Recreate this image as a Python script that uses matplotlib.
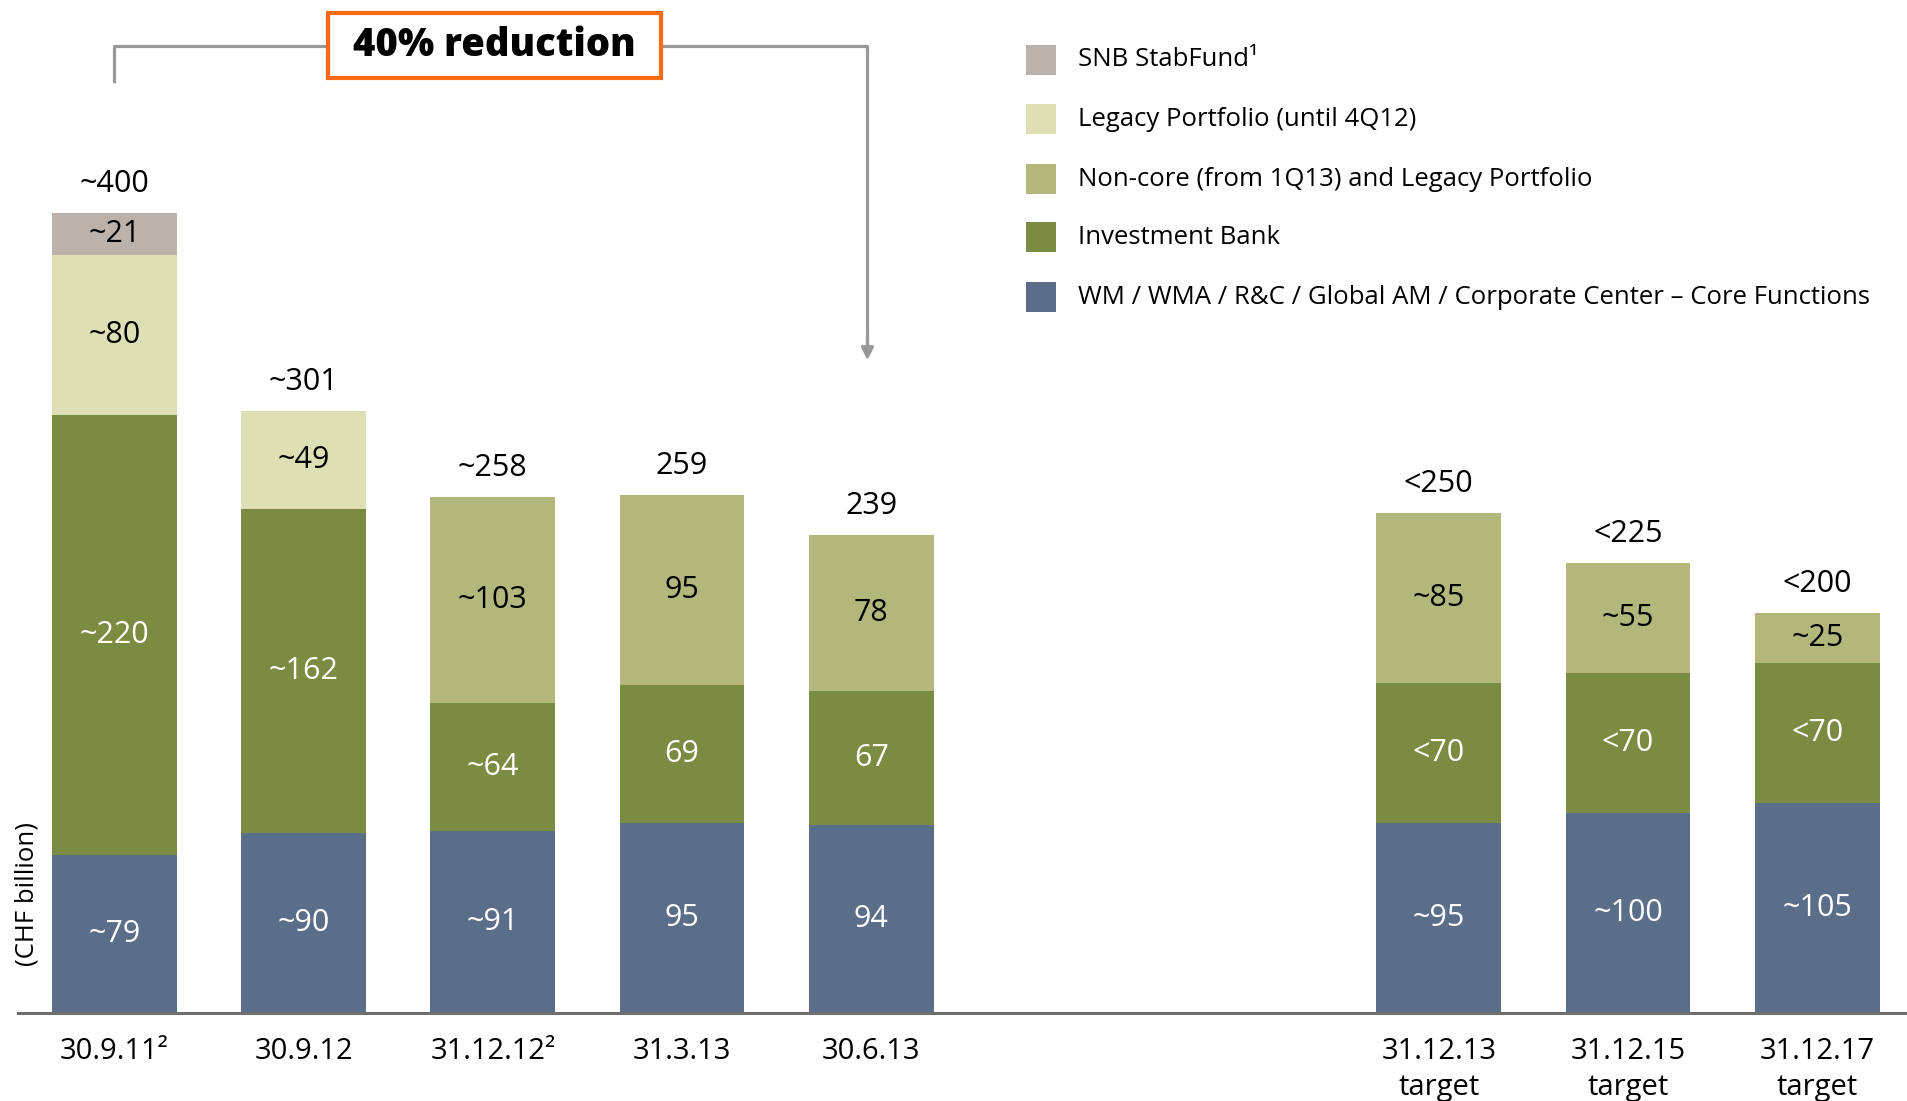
import numpy as np
import matplotlib
matplotlib.use("Agg")
import matplotlib.pyplot as plt
from matplotlib.patches import Rectangle

plt.rcParams['font.family'] = ['Open Sans', 'DejaVu Sans']

# data (CHF billion)
categories = ["30.9.11\u00b2", "30.9.12", "31.12.12\u00b2", "31.3.13", "30.6.13",
              "31.12.13\ntarget", "31.12.15\ntarget", "31.12.17\ntarget"]
wm = [79, 90, 91, 95, 94, 95, 100, 105]
ib = [220, 162, 64, 69, 67, 70, 70, 70]
noncore = [0, 0, 103, 95, 78, 85, 55, 25]
legacy = [80, 49, 0, 0, 0, 0, 0, 0]
snb = [21, 0, 0, 0, 0, 0, 0, 0]

wm_lbl = ["~79", "~90", "~91", "95", "94", "~95", "~100", "~105"]
ib_lbl = ["~220", "~162", "~64", "69", "67", "<70", "<70", "<70"]
noncore_lbl = ["", "", "~103", "95", "78", "~85", "~55", "~25"]
legacy_lbl = ["~80", "~49", "", "", "", "", "", ""]
snb_lbl = ["~21", "", "", "", "", "", "", ""]
total_lbl = ["~400", "~301", "~258", "259", "239", "<250", "<225", "<200"]

series_names = ["WM / WMA / R&C / Global AM / Corporate Center \u2013 Core Functions",
                "Investment Bank",
                "Non-core (from 1Q13) and Legacy Portfolio",
                "Legacy Portfolio (until 4Q12)",
                "SNB StabFund\u00b9"]
colors = ["#5a6e8a", "#7a8c41", "#b3b77c", "#dfdfb6", "#bab2ab"]
text_colors = ["white", "white", "black", "black", "black"]

W, H = 1908, 1101
fig = plt.figure(figsize=(W / 100, H / 100), dpi=100)
ax = fig.add_axes([18 / W, (H - 1013) / H, 1 - 18 / W, 1013 / H])

# 5 actual dates, then a gap of two slots before the targets
pos = np.r_[np.arange(5), np.arange(3) + 7]

stack = [wm, ib, noncore, legacy, snb]
labels = [wm_lbl, ib_lbl, noncore_lbl, legacy_lbl, snb_lbl]
bottom = np.zeros(len(pos))
for vals, lbls, c, tc in zip(stack, labels, colors, text_colors):
    vals = np.array(vals, dtype=float)
    ax.bar(pos, vals, 0.66, bottom=bottom, color=c, edgecolor="none")
    for x, b, v, t in zip(pos, bottom, vals, lbls):
        if v > 0:
            ax.text(x, b + v / 2, t, ha="center", va="center", fontsize=22, color=tc)
    bottom += vals

for x, top, t in zip(pos, bottom, total_lbl):
    ax.text(x, top + 14.5, t, ha="center", va="center", fontsize=22, color="black")

ax.set_xlim(-0.51, 9.48)
ax.set_ylim(0, 506.5)
ax.set_yticks([])
ax.set_xticks(pos, labels=categories)
ax.tick_params(axis="x", length=0, pad=17.5, labelsize=21)
for lbl in ax.get_xticklabels():
    lbl.set_linespacing(1.3)
for s in ["top", "left", "right"]:
    ax.spines[s].set_visible(False)
ax.spines["bottom"].set_color("#6e6e6e")
ax.spines["bottom"].set_linewidth(2.2)

fig.text(27 / W, 1 - 894 / H, "(CHF billion)", rotation=90, ha="center", va="center", fontsize=18.5)

# bracket with arrow: 40% reduction
gray = "#999999"
ax.plot([0, 0, 1.13], [466, 483.5, 483.5], color=gray, lw=2.3, clip_on=False)
ax.plot([2.89, 3.98, 3.98], [483.5, 483.5, 334], color=gray, lw=2.3, clip_on=False)
ax.annotate("", xy=(3.98, 325), xytext=(3.98, 340),
            arrowprops=dict(arrowstyle="-|>", color=gray, lw=2.3, mutation_scale=18))
ax.add_patch(Rectangle((1.13, 467.5), 1.76, 32.5, facecolor="white",
                       edgecolor="#ff6a13", lw=3, clip_on=False, zorder=5))
ax.text(2.01, 483.75, "40% reduction", ha="center", va="center", fontsize=27.5,
        fontweight=800, zorder=6)

# legend
leg_rows = [60, 119, 179, 237, 297]
for y, name, c in zip(leg_rows, series_names[::-1], colors[::-1]):
    fig.add_artist(Rectangle((1026 / W, 1 - (y + 15) / H), 30 / W, 30 / H,
                             facecolor=c, edgecolor="none", transform=fig.transFigure))
    fig.text(1078 / W, 1 - y / H, name, ha="left", va="center", fontsize=18.5)

fig.savefig("out.png", dpi=100)
